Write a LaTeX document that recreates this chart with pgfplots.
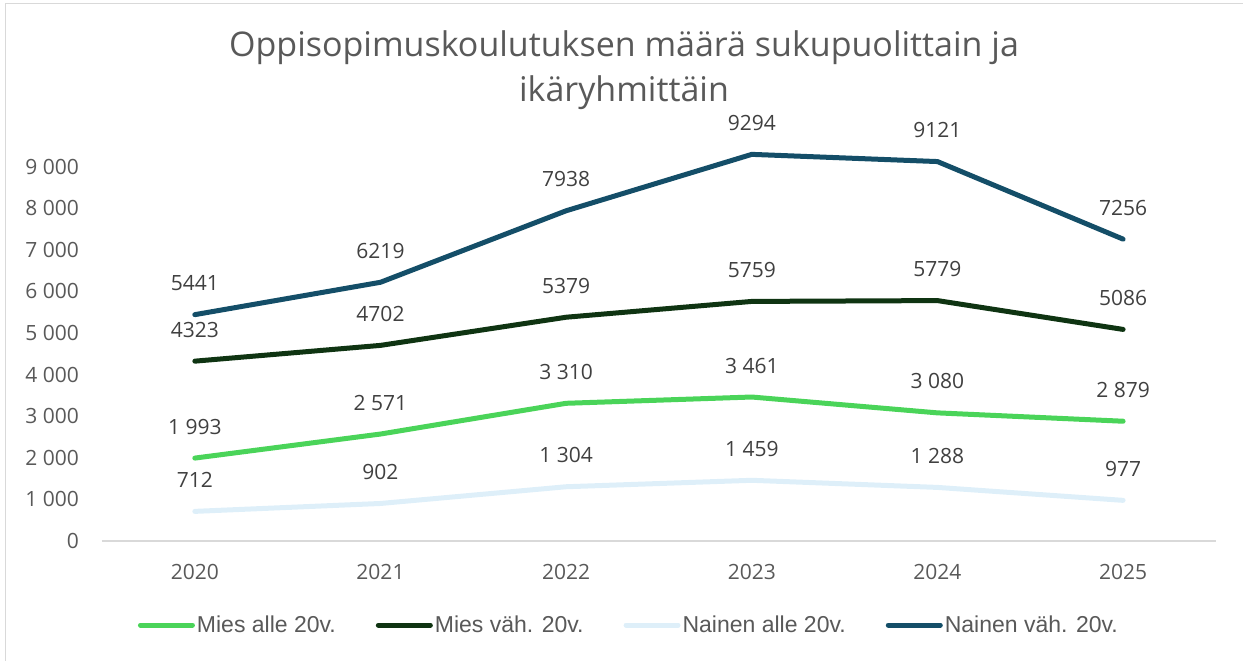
\documentclass[border=0pt]{standalone}
\usepackage{pgfplots}
\pgfplotsset{compat=1.18}
\usepackage{fontspec}
\setmainfont{Open Sans}
\newfontfamily\legfont{Liberation Sans}

\definecolor{miesalle}{RGB}{74,212,89}
\definecolor{miesvah}{RGB}{15,52,18}
\definecolor{naisalle}{RGB}{222,239,249}
\definecolor{naisvah}{RGB}{20,78,104}
\definecolor{titlegray}{RGB}{89,89,89}
\definecolor{labgray}{RGB}{64,64,64}
\definecolor{axgray}{RGB}{217,217,217}

\begin{document}
\begin{tikzpicture}[x=1pt,y=1pt]
    \useasboundingbox (0,0) rectangle (1243,661);
    % outer chart frame (only left and top edges show)
    \draw[axgray, line width=1.2pt] (5.5,0) -- (5.5,657.5) -- (1243,657.5);
    % title
    \node[font=\fontsize{34}{40}\selectfont, text=titlegray] at (624,613) {Oppisopimuskoulutuksen määrä sukupuolittain ja};
    \node[font=\fontsize{34}{40}\selectfont, text=titlegray] at (624,568) {ikäryhmittäin};

    \begin{axis}[
        at={(102pt,120pt)}, anchor=south west,
        scale only axis,
        width=1114pt, height=416pt,
        xmin=-0.5, xmax=5.5,
        ymin=0, ymax=10000,
        scaled y ticks=false,
        clip=false,
        axis x line*=bottom,
        axis y line*=left,
        x axis line style={-, axgray, line width=1.5pt},
        y axis line style={draw=none},
        major tick length=0pt,
        tick style={draw=none},
        xtick={0,1,2,3,4,5},
        xticklabels={2020,2021,2022,2023,2024,2025},
        ytick={0,1000,2000,3000,4000,5000,6000,7000,8000,9000},
        yticklabels={0,1 000,2 000,3 000,4 000,5 000,6 000,7 000,8 000,9 000},
        xticklabel style={anchor=base, yshift=-39pt, inner sep=0pt,
            font=\fontsize{21}{25}\selectfont, text=titlegray},
        yticklabel style={anchor=east, xshift=-23pt, inner sep=0pt,
            font=\fontsize{21}{25}\selectfont, text=titlegray},
        every axis plot/.append style={line width=5pt, line cap=round, line join=round},
        point meta=explicit symbolic,
        nodes near coords,
        nodes near coords align={anchor=base},
        every node near coord/.append style={anchor=base, yshift=24pt, inner sep=0pt,
            font=\fontsize{21}{25}\selectfont, text=labgray},
        legend columns=4,
        legend style={at={(0.473,-0.202)}, anchor=center, draw=none, fill=none,
            font=\legfont\fontsize{23}{28}\selectfont, text=titlegray,
            nodes={inner xsep=2pt},
            /tikz/every even column/.append style={column sep=38pt}},
        legend image code/.code={\draw[#1] (0pt,0pt) -- (52pt,0pt);},
    ]
    % Mies alle 20v.
    \addplot[miesalle, mark=none] coordinates {
        (0,1993) [1 993] (1,2571) [2 571] (2,3310) [3 310]
        (3,3461) [3 461] (4,3080) [3 080] (5,2879) [2 879] };
    \addlegendentry{Mies alle 20v.}
    % Mies vah. 20v.
    \addplot[miesvah, mark=none] coordinates {
        (0,4323) [4323] (1,4702) [4702] (2,5379) [5379]
        (3,5759) [5759] (4,5779) [5779] (5,5086) [5086] };
    \addlegendentry{Mies väh. 20v.}
    % Nainen alle 20v.
    \addplot[naisalle, mark=none] coordinates {
        (0,712) [712] (1,902) [902] (2,1304) [1 304]
        (3,1459) [1 459] (4,1288) [1 288] (5,977) [977] };
    \addlegendentry{Nainen alle 20v.}
    % Nainen vah. 20v.
    \addplot[naisvah, mark=none] coordinates {
        (0,5441) [5441] (1,6219) [6219] (2,7938) [7938]
        (3,9294) [9294] (4,9121) [9121] (5,7256) [7256] };
    \addlegendentry{Nainen väh. 20v.}
    \end{axis}
\end{tikzpicture}
\end{document}
